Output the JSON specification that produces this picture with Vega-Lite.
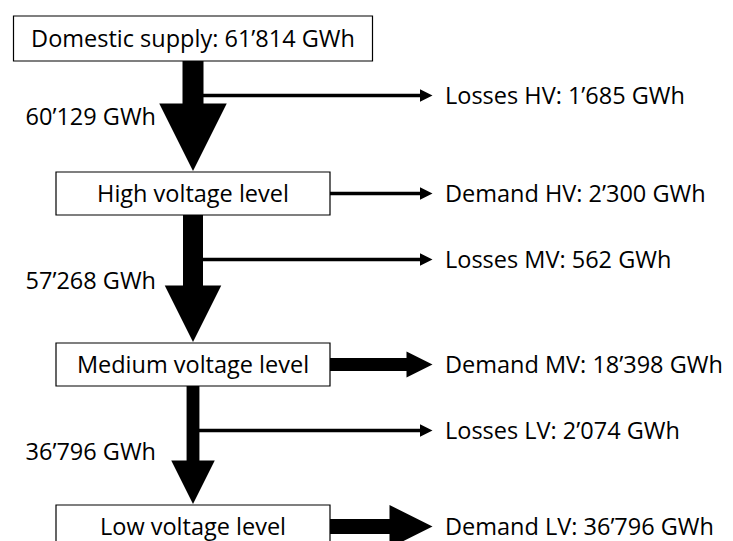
{
  "$schema": "https://vega.github.io/schema/vega-lite/v6.json",
  "width": 733,
  "height": 541,
  "padding": 0,
  "autosize": {"type": "none"},
  "background": "white",
  "config": {
    "view": {"stroke": null},
    "text": {"font": "Open Sans", "fontSize": 23.5, "color": "black"}
  },
  "datasets": {
    "levels": [
      {"step": 0, "name": "Domestic supply: 61’814 GWh", "value": 61814},
      {"step": 2, "name": "High voltage level"},
      {"step": 4, "name": "Medium voltage level"},
      {"step": 6, "name": "Low voltage level"}
    ],
    "transfers": [
      {"from": 0, "step": 1, "to": 2, "value": 60129, "label": "60’129 GWh"},
      {"from": 2, "step": 3, "to": 4, "value": 57268, "label": "57’268 GWh"},
      {"from": 4, "step": 5, "to": 6, "value": 36796, "label": "36’796 GWh"}
    ],
    "outflows": [
      {"step": 1, "kind": "Losses", "level": "HV", "value": 1685, "label": "Losses HV: 1’685 GWh"},
      {"step": 2, "kind": "Demand", "level": "HV", "value": 2300, "label": "Demand HV: 2’300 GWh"},
      {"step": 3, "kind": "Losses", "level": "MV", "value": 562, "label": "Losses MV: 562 GWh"},
      {"step": 4, "kind": "Demand", "level": "MV", "value": 18398, "label": "Demand MV: 18’398 GWh"},
      {"step": 5, "kind": "Losses", "level": "LV", "value": 2074, "label": "Losses LV: 2’074 GWh"},
      {"step": 6, "kind": "Demand", "level": "LV", "value": 36796, "label": "Demand LV: 36’796 GWh"}
    ]
  },
  "resolve": {"scale": {"strokeWidth": "independent", "size": "independent"}},
  "layer": [
    {
      "data": {"name": "outflows"},
      "transform": [{"filter": "datum.value < 10000"}],
      "mark": {"type": "rule", "color": "black", "strokeCap": "butt", "x2Offset": -6},
      "encoding": {
        "x": {"datum": 0, "type": "quantitative", "axis": null, "scale": {"domain": [0, 1], "range": [193, 432.5], "nice": false, "zero": false}},
        "x2": {"datum": 1},
        "y": {"field": "step", "type": "quantitative", "axis": null, "scale": {"domain": [0, 1, 2, 3, 4, 5, 6], "range": [38.5, 95.5, 193.5, 259.5, 364.5, 430.5, 526.5], "nice": false, "zero": false}},
        "strokeWidth": {"field": "value", "type": "quantitative", "legend": null, "scale": {"domain": [2300, 18398, 36796], "range": [3.5, 13, 15], "clamp": true, "zero": false, "nice": false}}
      }
    },
    {
      "data": {"name": "outflows"},
      "transform": [{"filter": "datum.value >= 10000"}],
      "mark": {"type": "rule", "color": "black", "strokeCap": "butt", "x2Offset": -18},
      "encoding": {
        "x": {"datum": 0, "type": "quantitative", "axis": null, "scale": {"domain": [0, 1], "range": [193, 432.5], "nice": false, "zero": false}},
        "x2": {"datum": 1},
        "y": {"field": "step", "type": "quantitative", "axis": null, "scale": {"domain": [0, 1, 2, 3, 4, 5, 6], "range": [38.5, 95.5, 193.5, 259.5, 364.5, 430.5, 526.5], "nice": false, "zero": false}},
        "strokeWidth": {"field": "value", "type": "quantitative", "legend": null, "scale": {"domain": [2300, 18398, 36796], "range": [3.5, 13, 15], "clamp": true, "zero": false, "nice": false}}
      }
    },
    {
      "data": {"name": "transfers"},
      "mark": {"type": "rule", "color": "black", "strokeCap": "butt", "y2Offset": -46},
      "encoding": {
        "x": {"datum": 0, "type": "quantitative", "axis": null, "scale": {"domain": [0, 1], "range": [193, 432.5], "nice": false, "zero": false}},
        "y": {"field": "from", "type": "quantitative", "axis": null, "scale": {"domain": [0, 1, 2, 3, 4, 5, 6], "range": [38.5, 95.5, 193.5, 259.5, 364.5, 430.5, 526.5], "nice": false, "zero": false}},
        "y2": {"field": "to"},
        "strokeWidth": {"field": "value", "type": "quantitative", "legend": null, "scale": {"domain": [0, 60129], "range": [0, 21], "zero": false, "nice": false}}
      }
    },
    {
      "data": {"name": "levels"},
      "transform": [{"filter": "datum.step == 0"}],
      "mark": {"type": "rect", "fill": "white", "stroke": "black", "strokeWidth": 1.2, "xOffset": -179.5, "x2Offset": 179.5, "yOffset": -22.5, "y2Offset": 22.5},
      "encoding": {
        "x": {"datum": 0, "type": "quantitative", "axis": null, "scale": {"domain": [0, 1], "range": [193, 432.5], "nice": false, "zero": false}},
        "x2": {"datum": 0},
        "y": {"field": "step", "type": "quantitative", "axis": null, "scale": {"domain": [0, 1, 2, 3, 4, 5, 6], "range": [38.5, 95.5, 193.5, 259.5, 364.5, 430.5, 526.5], "nice": false, "zero": false}},
        "y2": {"field": "step"}
      }
    },
    {
      "data": {"name": "levels"},
      "transform": [{"filter": "datum.step > 0"}],
      "mark": {"type": "rect", "fill": "white", "stroke": "black", "strokeWidth": 1.2, "xOffset": -137, "x2Offset": 137, "yOffset": -21.5, "y2Offset": 21.5},
      "encoding": {
        "x": {"datum": 0, "type": "quantitative", "axis": null, "scale": {"domain": [0, 1], "range": [193, 432.5], "nice": false, "zero": false}},
        "x2": {"datum": 0},
        "y": {"field": "step", "type": "quantitative", "axis": null, "scale": {"domain": [0, 1, 2, 3, 4, 5, 6], "range": [38.5, 95.5, 193.5, 259.5, 364.5, 430.5, 526.5], "nice": false, "zero": false}},
        "y2": {"field": "step"}
      }
    },
    {
      "data": {"name": "transfers"},
      "mark": {"type": "point", "filled": true, "fill": "black", "strokeWidth": 0, "opacity": 1, "shape": "M-1,-2L1,-2L0,0Z", "yOffset": -22.5},
      "encoding": {
        "x": {"datum": 0, "type": "quantitative", "axis": null, "scale": {"domain": [0, 1], "range": [193, 432.5], "nice": false, "zero": false}},
        "y": {"field": "to", "type": "quantitative", "axis": null, "scale": {"domain": [0, 1, 2, 3, 4, 5, 6], "range": [38.5, 95.5, 193.5, 259.5, 364.5, 430.5, 526.5], "nice": false, "zero": false}},
        "size": {"field": "value", "type": "quantitative", "legend": null, "scale": {"domain": [36796, 57268, 60129], "range": [1892, 3192, 4556], "zero": false, "nice": false}}
      }
    },
    {
      "data": {"name": "outflows"},
      "mark": {"type": "point", "filled": true, "fill": "black", "strokeWidth": 0, "opacity": 1, "shape": "M-2,-1L0,0L-2,1Z"},
      "encoding": {
        "x": {"datum": 1, "type": "quantitative", "axis": null, "scale": {"domain": [0, 1], "range": [193, 432.5], "nice": false, "zero": false}},
        "y": {"field": "step", "type": "quantitative", "axis": null, "scale": {"domain": [0, 1, 2, 3, 4, 5, 6], "range": [38.5, 95.5, 193.5, 259.5, 364.5, 430.5, 526.5], "nice": false, "zero": false}},
        "size": {"field": "value", "type": "quantitative", "legend": null, "scale": {"domain": [2300, 18398, 36796], "range": [156, 676, 1850], "clamp": true, "zero": false, "nice": false}}
      }
    },
    {
      "data": {"name": "levels"},
      "mark": {"type": "text", "align": "center", "baseline": "middle", "dy": 1},
      "encoding": {
        "x": {"datum": 0, "type": "quantitative", "axis": null, "scale": {"domain": [0, 1], "range": [193, 432.5], "nice": false, "zero": false}},
        "y": {"field": "step", "type": "quantitative", "axis": null, "scale": {"domain": [0, 1, 2, 3, 4, 5, 6], "range": [38.5, 95.5, 193.5, 259.5, 364.5, 430.5, 526.5], "nice": false, "zero": false}},
        "text": {"field": "name"}
      }
    },
    {
      "data": {"name": "transfers"},
      "mark": {"type": "text", "align": "right", "baseline": "middle", "dx": -37, "dy": 22},
      "encoding": {
        "x": {"datum": 0, "type": "quantitative", "axis": null, "scale": {"domain": [0, 1], "range": [193, 432.5], "nice": false, "zero": false}},
        "y": {"field": "step", "type": "quantitative", "axis": null, "scale": {"domain": [0, 1, 2, 3, 4, 5, 6], "range": [38.5, 95.5, 193.5, 259.5, 364.5, 430.5, 526.5], "nice": false, "zero": false}},
        "text": {"field": "label"}
      }
    },
    {
      "data": {"name": "outflows"},
      "mark": {"type": "text", "align": "left", "baseline": "middle", "dx": 12.5, "dy": 1},
      "encoding": {
        "x": {"datum": 1, "type": "quantitative", "axis": null, "scale": {"domain": [0, 1], "range": [193, 432.5], "nice": false, "zero": false}},
        "y": {"field": "step", "type": "quantitative", "axis": null, "scale": {"domain": [0, 1, 2, 3, 4, 5, 6], "range": [38.5, 95.5, 193.5, 259.5, 364.5, 430.5, 526.5], "nice": false, "zero": false}},
        "text": {"field": "label"}
      }
    }
  ]
}
